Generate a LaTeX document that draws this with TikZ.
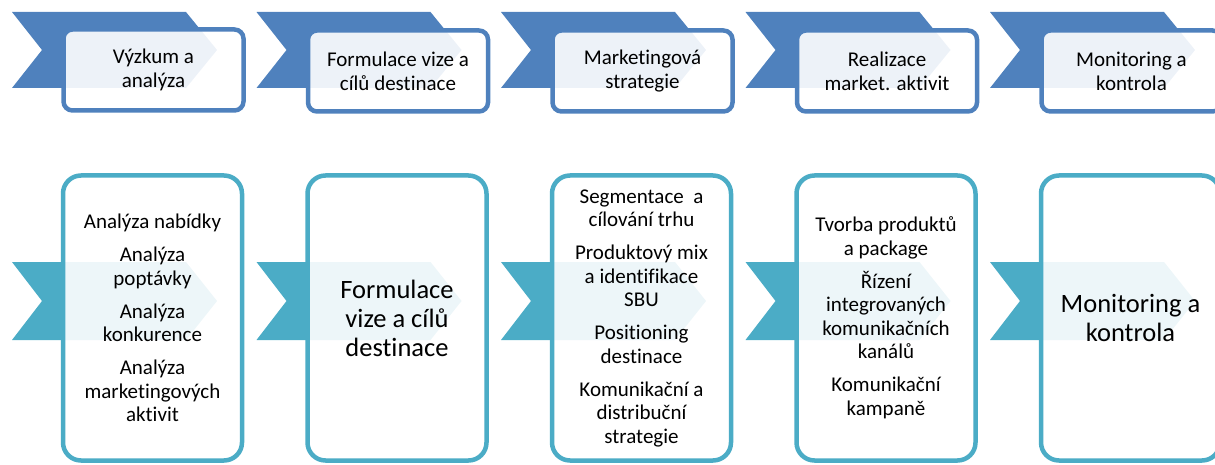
\documentclass[tikz,border=0pt]{standalone}
\usepackage{fontspec}
\setmainfont[Ligatures=NoCommon]{Carlito}
\definecolor{topblue}{HTML}{4F81BD}
\definecolor{aqua}{HTML}{4BACC6}
\begin{document}
\begin{tikzpicture}[x=1pt,y=-1pt,
  topchev/.style={fill=topblue},
  botchev/.style={fill=aqua},
  boxbase/.style={rectangle, fill=white, fill opacity=0.9, text opacity=1, draw opacity=1,
    inner sep=0pt, align=center, text=black},
  topbox/.style={boxbase, draw=topblue, line width=4.5pt, rounded corners=9pt,
    minimum width=180pt, minimum height=81pt, font=\fontsize{21}{24}\selectfont},
  botbox/.style={boxbase, draw=aqua, line width=4.5pt, rounded corners=18pt,
    minimum width=179pt, minimum height=285pt, font=\fontsize{21}{23.5}\selectfont},
  bigtext/.style={font=\fontsize{26.5}{29}\selectfont}
]
\path[use as bounding box, clip] (0,0) rectangle (1215,465);
\foreach \i in {0,...,4}{
  \pgfmathsetmacro\xo{12+244.5*\i}
  \fill[topchev] (\xo,12) -- ++(174,0) -- ++(31,38) -- ++(-31,38) -- ++(-174,0) -- ++(30,-38) -- cycle;
  \fill[botchev] (\xo,262) -- ++(174,0) -- ++(31,39) -- ++(-31,39) -- ++(-174,0) -- ++(30,-39) -- cycle;
}
% top boxes
\node[topbox] (t1) at (153.5,70) {Výzkum a\\analýza};
\node[topbox] (t2) at (398,71) {Formulace vize a\\cílů destinace};
\node[topbox] (t3) at (642.5,71) {Marketingová\\strategie};
\node[topbox] (t4) at (887,71) {Realizace\\market. aktivit};
\node[topbox] (t5) at (1131.5,71) {Monitoring a\\kontrola};
% bottom boxes
\node[botbox] (b1) at (152.5,318) {Analýza nabídky\\[9.5pt]Analýza\\poptávky\\[9.5pt]Analýza\\konkurence\\[9.5pt]Analýza\\marketingových\\aktivit};
\node[botbox, bigtext] (b2) at (397,318) {Formulace\\vize a cílů\\destinace};
\node[botbox] (b3) at (641.5,318) {Segmentace~ a\\cílování trhu\\[9.5pt]Produktový mix\\a identifikace\\SBU\\[9.5pt]Positioning\\destinace\\[9.5pt]Komunikační a\\distribuční\\strategie};
\node[botbox] (b4) at (886,318) {Tvorba produktů\\a package\\[9.5pt]Řízení\\integrovaných\\komunikačních\\kanálů\\[9.5pt]Komunikační\\kampaně};
\node[botbox, bigtext] (b5) at (1130.5,318) {Monitoring a\\kontrola};
\end{tikzpicture}
\end{document}
